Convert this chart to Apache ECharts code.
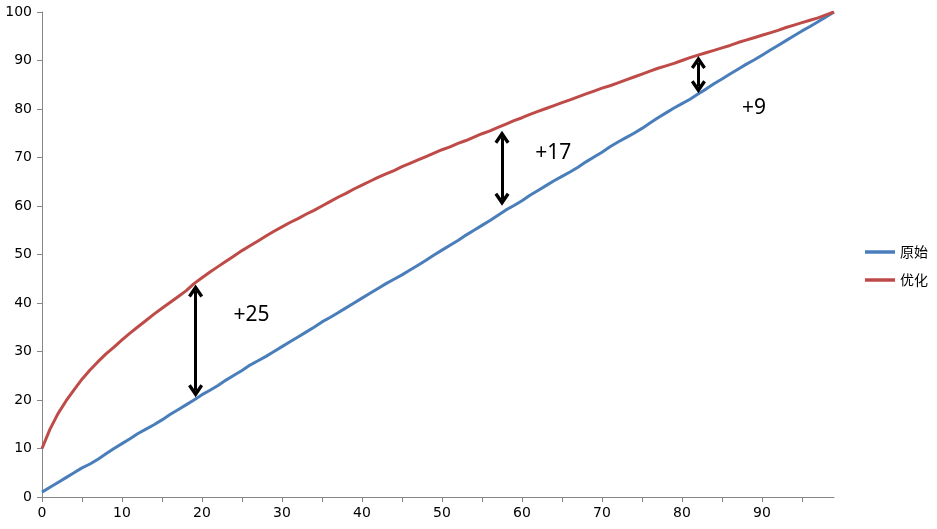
<!DOCTYPE html>
<html>
<head>
<meta charset="utf-8">
<script src="https://cdn.jsdelivr.net/npm/echarts@6/dist/echarts.min.js"></script>
<style>html,body{margin:0;padding:0;background:#fff}#c{width:937px;height:529px}</style>
</head>
<body>
<div id="c"></div>
<script>
var xValues = [0,1,2,3,4,5,6,7,8,9,10,11,12,13,14,15,16,17,18,19,20,21,22,23,24,25,26,27,28,29,30,31,32,33,34,35,36,37,38,39,40,41,42,43,44,45,46,47,48,49,50,51,52,53,54,55,56,57,58,59,60,61,62,63,64,65,66,67,68,69,70,71,72,73,74,75,76,77,78,79,80,81,82,83,84,85,86,87,88,89,90,91,92,93,94,95,96,97,98,99];
var original = [1.0,2.0,3.0,4.0,5.0,6.0,6.8,7.8,8.9,10.0,11.0,12.0,13.1,14.0,14.9,15.9,17.0,18.0,19.0,20.0,21.1,22.0,23.0,24.1,25.1,26.1,27.2,28.1,29.0,30.0,31.0,32.0,33.0,34.0,35.0,36.1,37.0,38.0,39.0,40.0,41.0,42.0,43.0,44.0,44.9,45.8,46.8,47.8,48.8,49.9,50.9,51.9,52.9,54.0,55.0,56.0,57.0,58.1,59.2,60.1,61.1,62.2,63.2,64.2,65.2,66.1,67.0,68.0,69.1,70.1,71.1,72.2,73.2,74.1,75.0,76.0,77.1,78.2,79.2,80.2,81.1,82.0,83.1,84.1,85.2,86.2,87.2,88.2,89.2,90.1,91.1,92.1,93.1,94.1,95.1,96.1,97.0,98.0,99.0,100.0];
var optimized = [10.0,14.0,17.2,19.8,22.1,24.3,26.2,27.9,29.5,30.9,32.4,33.8,35.1,36.4,37.7,38.9,40.1,41.3,42.5,44.0,45.2,46.4,47.5,48.6,49.7,50.8,51.8,52.8,53.8,54.8,55.7,56.6,57.4,58.3,59.1,60.0,60.9,61.8,62.6,63.5,64.3,65.1,65.9,66.6,67.3,68.1,68.8,69.5,70.2,70.9,71.6,72.2,72.9,73.5,74.2,74.9,75.5,76.2,76.9,77.6,78.2,78.9,79.5,80.1,80.7,81.3,81.9,82.5,83.1,83.7,84.3,84.8,85.4,86.0,86.6,87.2,87.8,88.4,88.9,89.4,90.0,90.6,91.1,91.6,92.1,92.6,93.1,93.7,94.2,94.7,95.2,95.7,96.2,96.8,97.3,97.8,98.3,98.8,99.4,100.0];
var seriesNames = ['原始', '优化'];
var xTickValues = [0,5,10,15,20,25,30,35,40,45,50,55,60,65,70,75,80,85,90,95];
var xLabelValues = [0,10,20,30,40,50,60,70,80,90];
var arrowX = [19.2, 57.5, 82.05];
var arrowTop = [42.5, 74.2, 89.6];
var arrowBottom = [21.9, 61.4, 84.6];
var gainLabels = ['+25', '+17', '+9'];
var gainLabelX = [26.2, 63.9, 89.0];
var gainLabelY = [37.5, 70.9, 80.1];

function pairs(ys) { return ys.map(function (y, i) { return [xValues[i], y]; }); }

var chevron = 'path://M0,9 L5,0 L10,9 L8.2,10.6 L5,5 L1.8,10.6 Z';
var arrowLines = arrowX.map(function (x, i) {
  return [{ coord: [x, arrowTop[i]] }, { coord: [x, arrowBottom[i]] }];
});
var gainPoints = gainLabels.map(function (t, i) {
  return { coord: [gainLabelX[i], gainLabelY[i]], value: t };
});

var chart = echarts.init(document.getElementById('c'));
chart.setOption({
  animation: false,
  backgroundColor: '#fff',
  grid: { left: 42, right: 103, top: 12, bottom: 32 },
  legend: {
    orient: 'vertical', left: 865, top: 245, itemGap: 14, padding: 0,
    icon: 'rect', itemWidth: 30, itemHeight: 3.5,
    textStyle: { fontFamily: 'Noto Sans CJK SC', fontSize: 14, color: '#000' },
    data: seriesNames
  },
  xAxis: {
    type: 'value', min: 0, max: 99,
    splitLine: { show: false },
    axisLine: { lineStyle: { color: '#868686', width: 1 } },
    axisTick: { show: true, length: 5, lineStyle: { color: '#868686' }, customValues: xTickValues },
    axisLabel: { customValues: xLabelValues, margin: 9, fontFamily: 'DejaVu Sans', fontSize: 14, color: '#000' }
  },
  yAxis: {
    type: 'value', min: 0, max: 100, interval: 10,
    splitLine: { show: false },
    axisLine: { show: true, lineStyle: { color: '#868686', width: 1 } },
    axisTick: { show: true, length: 5, lineStyle: { color: '#868686' } },
    axisLabel: { margin: 10, fontFamily: 'DejaVu Sans', fontSize: 14, color: '#000' }
  },
  series: [
    {
      name: seriesNames[0], type: 'line', data: pairs(original),
      showSymbol: false, symbol: 'none', smooth: false,
      lineStyle: { color: '#4a7ebb', width: 3 }, itemStyle: { color: '#4a7ebb' }
    },
    {
      name: seriesNames[1], type: 'line', data: pairs(optimized),
      showSymbol: false, symbol: 'none', smooth: false,
      lineStyle: { color: '#be4b48', width: 3 }, itemStyle: { color: '#be4b48' },
      markLine: {
        silent: true, animation: false,
        symbol: [chevron, chevron], symbolSize: [15, 13],
        lineStyle: { color: '#000', width: 3, type: 'solid' },
        label: { show: false },
        data: arrowLines
      },
      markPoint: {
        silent: true, symbol: 'circle', symbolSize: 0,
        label: {
          show: true, position: 'inside', formatter: '{c}',
          fontFamily: 'Noto Sans', fontSize: 21, color: '#000'
        },
        data: gainPoints
      }
    }
  ]
});
</script>
</body>
</html>
